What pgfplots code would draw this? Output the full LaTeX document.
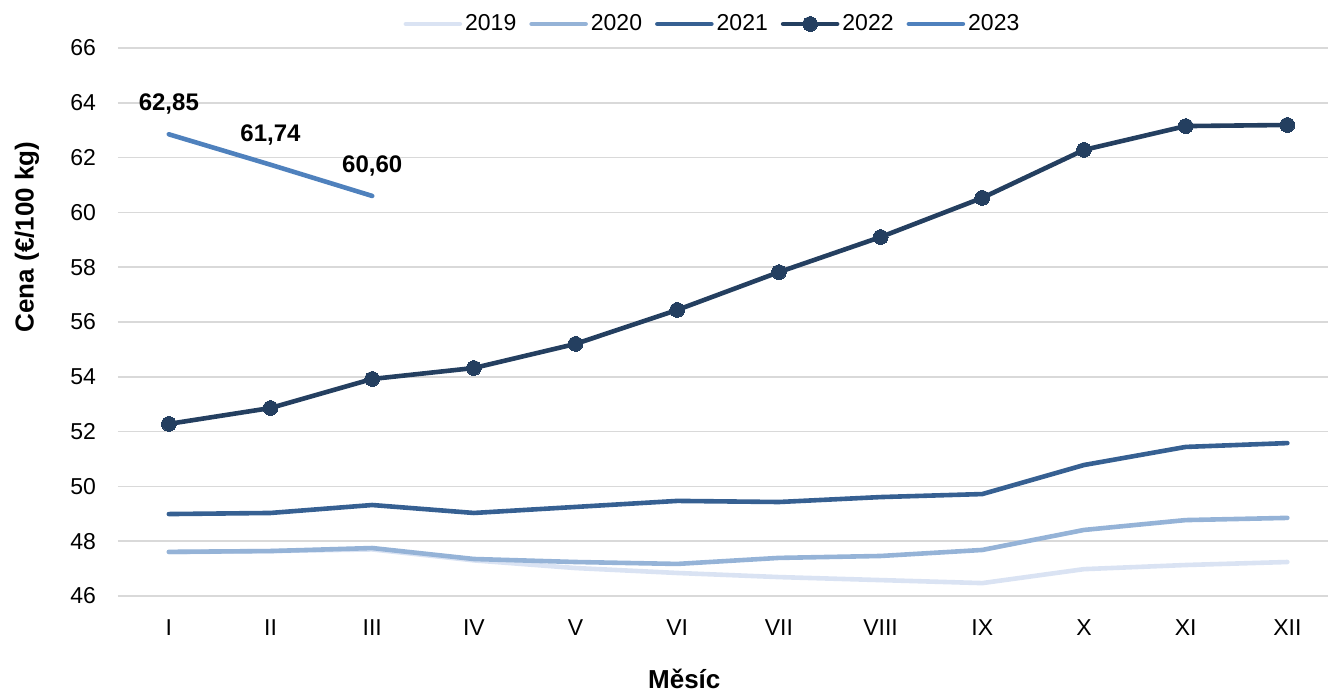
\documentclass[border=0pt]{standalone}
\usepackage{pgfplots}
\pgfplotsset{compat=1.18}
\usepackage{fontspec}
\setmainfont{Liberation Sans}

\definecolor{c2019}{HTML}{DAE3F3}
\definecolor{c2020}{HTML}{95B3D7}
\definecolor{c2021}{HTML}{366092}
\definecolor{c2022}{HTML}{243F60}
\definecolor{c2023}{HTML}{4F81BD}
\definecolor{gridgray}{HTML}{D9D9D9}

\begin{document}
\fontsize{11.5}{13.8}\selectfont
\begin{tikzpicture}
  \begin{axis}[
    scale only axis,
    width=605pt, height=274pt,
    xmin=0.5, xmax=12.4,
    ymin=46, ymax=66,
    xtick={1,...,12},
    xticklabels={I,II,III,IV,V,VI,VII,VIII,IX,X,XI,XII},
    ytick={46,48,...,66},
    axis line style={draw=none},
    major tick length=0pt,
    ymajorgrids=true,
    grid style={gridgray, line width=0.75pt},
    tick label style={font=\fontsize{11.5}{13.8}\selectfont},
    /pgf/number format/assume math mode=true,
    yticklabel style={xshift=-7pt},
    xticklabel style={yshift=-8pt},
    xlabel={Měsíc},
    ylabel={Cena (€/100 kg)},
    label style={font=\fontsize{13}{15.6}\selectfont\bfseries},
    xlabel style={at={(axis description cs:0.468,-0.152)}, anchor=center},
    ylabel style={at={(axis description cs:-0.0752,0.655)}, anchor=center},
    legend columns=-1,
    legend style={draw=none, fill=none, at={(0.4917,1)}, anchor=center, yshift=12pt,
      font=\fontsize{11.5}{13.8}\selectfont, inner sep=0pt,
      nodes={inner sep=1.5pt},
      /tikz/every even column/.append style={column sep=5pt}},
    legend image code/.code={
      \draw[#1, line cap=round] (0pt,0pt) -- (27pt,0pt);
      \draw[#1, only marks] plot coordinates {(13.5pt,0pt)};
    },
    every axis plot/.append style={line width=2.3pt, line join=round, line cap=round},
  ]
  \addplot[c2019, mark=none] coordinates {
    (1,47.60)(2,47.64)(3,47.70)(4,47.30)(5,47.02)(6,46.84)
    (7,46.69)(8,46.58)(9,46.47)(10,46.98)(11,47.13)(12,47.24)};
  \addlegendentry{2019}
  \addplot[c2020, mark=none] coordinates {
    (1,47.61)(2,47.64)(3,47.75)(4,47.35)(5,47.24)(6,47.17)
    (7,47.39)(8,47.46)(9,47.68)(10,48.41)(11,48.77)(12,48.85)};
  \addlegendentry{2020}
  \addplot[c2021, mark=none] coordinates {
    (1,48.99)(2,49.03)(3,49.32)(4,49.03)(5,49.25)(6,49.47)
    (7,49.43)(8,49.61)(9,49.72)(10,50.78)(11,51.44)(12,51.58)};
  \addlegendentry{2021}
  \addplot[c2022, mark=*, mark size=3.7pt, mark options={fill=c2022, line width=0pt}] coordinates {
    (1,52.28)(2,52.86)(3,53.92)(4,54.32)(5,55.20)(6,56.44)
    (7,57.82)(8,59.10)(9,60.53)(10,62.28)(11,63.15)(12,63.19)};
  \addlegendentry{2022}
  \addplot[c2023, mark=none,
    nodes near coords, point meta=explicit symbolic,
    every node near coord/.style={anchor=center, yshift=15pt, text=black,
      font=\fontsize{12}{14.4}\selectfont\bfseries}] coordinates {
    (1,62.85)[62,85] (2,61.74)[61,74] (3,60.60)[60,60]};
  \addlegendentry{2023}
  \end{axis}
  \pgfresetboundingbox
  \path[use as bounding box] ([xshift=-59pt,yshift=-48.5pt]current axis.south west)
    rectangle ([yshift=24pt]current axis.north east);
\end{tikzpicture}
\end{document}
